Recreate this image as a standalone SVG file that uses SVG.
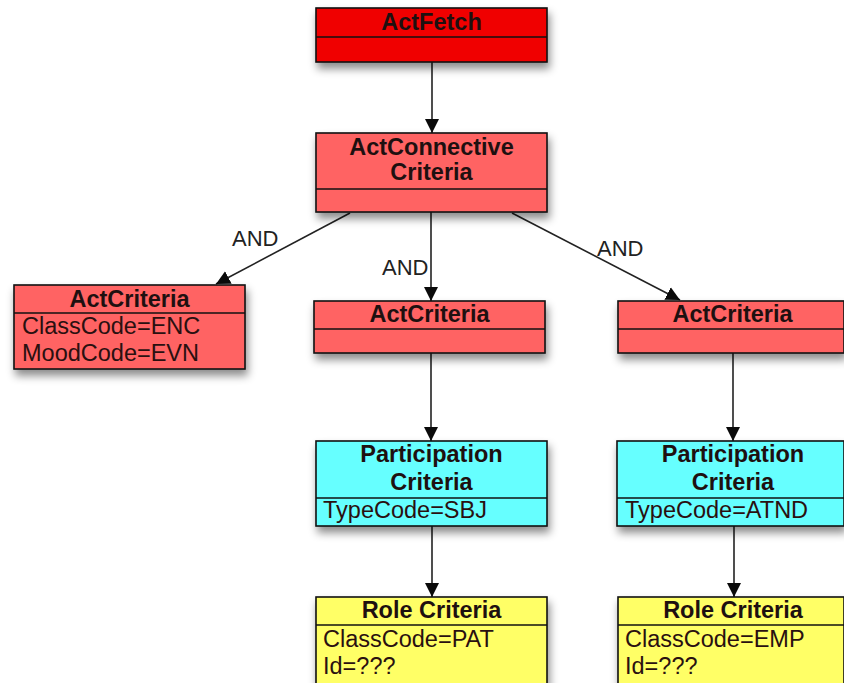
<svg xmlns="http://www.w3.org/2000/svg" width="844" height="683" viewBox="0 0 844 683">
  <defs>
    <filter id="shadow" x="-10%" y="-20%" width="130%" height="160%">
      <feDropShadow dx="2" dy="6" stdDeviation="4" flood-color="#000" flood-opacity="0.45"/>
    </filter>
    <marker id="arrow" viewBox="0 0 14 16" refX="14" refY="8" markerWidth="14" markerHeight="16" markerUnits="userSpaceOnUse" orient="auto">
      <path d="M0,1 L14,8 L0,15 Z" fill="#0a0a0a"/>
    </marker>
  </defs>
  <style>
    .box { stroke: #111; stroke-width: 1.6; filter: url(#shadow); }
    .div { stroke: #111; stroke-width: 1.4; }
    .red { fill: #f00000; }
    .salmon { fill: #ff6464; }
    .cyan { fill: #66ffff; }
    .yellow { fill: #ffff66; }
    .title { font-family: "Liberation Sans", Arial, sans-serif; font-weight: bold; font-size: 23.5px; fill: #1e1010; text-anchor: middle; }
    .attr { font-family: "Liberation Sans", Arial, sans-serif; font-size: 23.5px; fill: #2a1010; }
    .lbl { font-family: "Liberation Sans", Arial, sans-serif; font-size: 22px; fill: #222; }
    .conn { stroke: #222; stroke-width: 1.6; fill: none; marker-end: url(#arrow); }
  </style>

  <rect width="844" height="683" fill="#fff"/>

  <!-- connectors -->
  <g id="connectors">
    <line class="conn" x1="432" y1="62" x2="432" y2="133"/>
    <line class="conn" x1="350" y1="213" x2="216" y2="284"/>
    <line class="conn" x1="431" y1="212" x2="431" y2="301"/>
    <line class="conn" x1="512" y1="213" x2="680" y2="300"/>
    <line class="conn" x1="431" y1="353" x2="431" y2="441"/>
    <line class="conn" x1="733" y1="353" x2="733" y2="441"/>
    <line class="conn" x1="432" y1="526" x2="432" y2="597"/>
    <line class="conn" x1="734" y1="526" x2="734" y2="597"/>
    <text class="lbl" x="232" y="246">AND</text>
    <text class="lbl" x="382" y="275">AND</text>
    <text class="lbl" x="597" y="256">AND</text>
  </g>

  <!-- ActFetch -->
  <g id="actFetch">
    <rect class="box red" x="316" y="8" width="231" height="54"/>
    <line class="div" x1="316" y1="37" x2="547" y2="37"/>
    <text class="title" x="431.5" y="30">ActFetch</text>
  </g>

  <!-- ActConnective Criteria -->
  <g id="actConnective">
    <rect class="box salmon" x="316" y="133" width="231" height="79"/>
    <line class="div" x1="316" y1="189" x2="547" y2="189"/>
    <text class="title" x="431.5" y="155">ActConnective</text>
    <text class="title" x="431.5" y="180">Criteria</text>
  </g>

  <!-- ActCriteria (left) -->
  <g id="actCriteriaLeft">
    <rect class="box salmon" x="14" y="285" width="231" height="84"/>
    <line class="div" x1="14" y1="313" x2="245" y2="313"/>
    <text class="title" x="129.5" y="307">ActCriteria</text>
    <text class="attr" x="22" y="334">ClassCode=ENC</text>
    <text class="attr" x="22" y="361">MoodCode=EVN</text>
  </g>

  <!-- ActCriteria (middle) -->
  <g id="actCriteriaMid">
    <rect class="box salmon" x="314" y="301" width="231" height="52"/>
    <line class="div" x1="314" y1="329" x2="545" y2="329"/>
    <text class="title" x="429.5" y="322">ActCriteria</text>
  </g>

  <!-- ActCriteria (right) -->
  <g id="actCriteriaRight">
    <rect class="box salmon" x="618" y="301" width="226" height="52"/>
    <line class="div" x1="618" y1="329" x2="844" y2="329"/>
    <text class="title" x="732.5" y="322">ActCriteria</text>
  </g>

  <!-- Participation Criteria (middle) -->
  <g id="participationMid">
    <rect class="box cyan" x="316" y="441" width="231" height="85"/>
    <line class="div" x1="316" y1="498" x2="547" y2="498"/>
    <text class="title" x="431.5" y="462">Participation</text>
    <text class="title" x="431.5" y="490">Criteria</text>
    <text class="attr" x="323" y="518">TypeCode=SBJ</text>
  </g>

  <!-- Participation Criteria (right) -->
  <g id="participationRight">
    <rect class="box cyan" x="617" y="441" width="227" height="85"/>
    <line class="div" x1="617" y1="498" x2="844" y2="498"/>
    <text class="title" x="733" y="462">Participation</text>
    <text class="title" x="733" y="490">Criteria</text>
    <text class="attr" x="625" y="518">TypeCode=ATND</text>
  </g>

  <!-- Role Criteria (middle) -->
  <g id="roleMid">
    <rect class="box yellow" x="316" y="597" width="231" height="92"/>
    <line class="div" x1="316" y1="625" x2="547" y2="625"/>
    <text class="title" x="431.5" y="618">Role Criteria</text>
    <text class="attr" x="323" y="647">ClassCode=PAT</text>
    <text class="attr" x="323" y="674">Id=???</text>
  </g>

  <!-- Role Criteria (right) -->
  <g id="roleRight">
    <rect class="box yellow" x="618" y="597" width="226" height="92"/>
    <line class="div" x1="618" y1="625" x2="844" y2="625"/>
    <text class="title" x="733" y="618">Role Criteria</text>
    <text class="attr" x="625" y="647">ClassCode=EMP</text>
    <text class="attr" x="625" y="674">Id=???</text>
  </g>
</svg>
